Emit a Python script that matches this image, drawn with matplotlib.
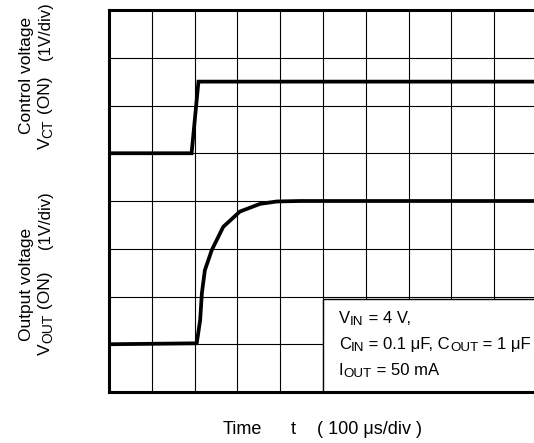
import numpy as np
import matplotlib
matplotlib.use('Agg')
import matplotlib.pyplot as plt
from matplotlib.patches import Rectangle

plt.rcParams['font.family'] = ['Liberation Sans', 'DejaVu Sans']

# scope screen: 10 x 8 divisions
n_xdiv = 10
n_ydiv = 8

# control voltage trace (divisions)
ct_x = [0.0, 1.93, 2.09, 10.0]
ct_y = [5.0, 5.0, 6.5, 6.5]

# output voltage trace (divisions)
out_x = [0.0, 2.05, 2.13, 2.17, 2.24, 2.40, 2.67, 3.06, 3.53, 3.92, 4.46, 10.0]
out_y = [1.0, 1.02, 1.51, 2.07, 2.55, 2.97, 3.46, 3.78, 3.94, 3.99, 4.0, 4.0]

# text pieces: (text, is_subscript)
cond_lines = [
    [('V', 0), ('IN', 1), (' = 4 V,', 0)],
    [('C', 0), ('IN', 1), (' = 0.1 μF, C', 0), ('OUT', 1), (' = 1 μF', 0)],
    [('I', 0), ('OUT', 1), (' = 50 mA', 0)],
]
ct_label = [('V', 0), ('CT', 1), (' (ON)', 0)]
out_label = [('V', 0), ('OUT', 1), (' (ON)', 0)]

W, H = 534, 443
fig = plt.figure(figsize=(W / 100, H / 100), dpi=100)
rend = fig.canvas.get_renderer()


def px(x, y):
    # pixel (from top-left) -> figure fraction
    return x / W, 1 - y / H


def text_w(s, size):
    t = fig.text(0, 0, s + 'X', fontsize=size)
    t2 = fig.text(0, 0, 'X', fontsize=size)
    w = t.get_window_extent(rend).width - t2.get_window_extent(rend).width
    t.remove()
    t2.remove()
    return w


def rich(x, y, pieces, size, rot=0, center=False):
    # x, y: baseline start (or centre) in pixels
    sizes = [size * 0.8 if sub else size for s, sub in pieces]
    widths = [text_w(s, sz) for (s, sub), sz in zip(pieces, sizes)]
    pos = -sum(widths) / 2 if center else 0
    drop = 2.0
    for (s, sub), sz, w in zip(pieces, sizes, widths):
        d = drop if sub else 0
        if rot == 0:
            xx, yy = x + pos, y + d
        else:
            xx, yy = x + d, y - pos
        fig.text(*px(xx, yy), s, fontsize=sz, rotation=rot,
                 rotation_mode='anchor', ha='left', va='baseline')
        pos += w


ax = fig.add_axes([109 / W, 1 - 392 / H, 428 / W, 382 / H])
ax.set_xlim(0, n_xdiv)
ax.set_ylim(0, n_ydiv)

for i in range(1, n_xdiv):
    ax.axvline(i, color='black', lw=0.8, zorder=1)
for j in range(1, n_ydiv):
    ax.axhline(j, color='black', lw=0.8, zorder=1)

ax.add_patch(Rectangle((5, -1), 7, 2.95, facecolor='white', edgecolor='black',
                       lw=1.0, zorder=2))

ax.plot(ct_x, ct_y, color='black', lw=2.7, solid_joinstyle='miter', zorder=3)
ax.plot(out_x, out_y, color='black', lw=2.7, zorder=3)

ax.set_xticks([])
ax.set_yticks([])
for s in ax.spines.values():
    s.set_linewidth(2.2)
    s.set_zorder(4)

fs = 12
baselines = [323, 349, 375]
for pieces, yb in zip(cond_lines, baselines):
    rich(339, yb, pieces, fs)

# left labels (rotated, baseline x is right side of glyphs)
fs_l = 12.5
fig.text(*px(27, 75), 'Control voltage', rotation=90, fontsize=fs_l,
         ha='center', va='center')
rich(50, 113, ct_label, fs_l, rot=90, center=True)
fig.text(*px(45, 31), '(1V/div)', rotation=90, fontsize=12,
         ha='center', va='center')

fig.text(*px(27, 284), 'Output voltage', rotation=90, fontsize=fs_l,
         ha='center', va='center')
rich(50, 313, out_label, fs_l, rot=90, center=True)
fig.text(*px(45, 220), '(1V/div)', rotation=90, fontsize=12,
         ha='center', va='center')

# time label
fs_t = 13
fig.text(*px(223, 430), 'Time', fontsize=fs_t, ha='left', va='center')
fig.text(*px(293, 430), 't', fontsize=fs_t, ha='center', va='center')
fig.text(*px(317, 430), '( 100 μs/div )', fontsize=fs_t, ha='left', va='center')

fig.savefig('out.png', dpi=100)
